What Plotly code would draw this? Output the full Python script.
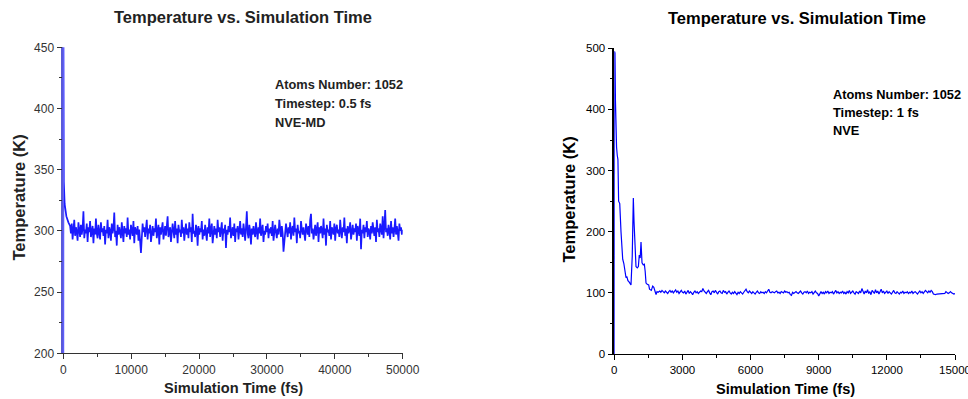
import numpy as np
import plotly.graph_objects as go

# ---------------- Left panel data (timestep 0.5 fs, NVE-MD) ----------------
left_start_time = [0, 15, 30, 80, 200, 450, 750]
left_start_temp = [150, 470, 455, 340, 322, 312, 307]

left_noise_temp = [
    304, 298, 306, 293, 301, 309, 296, 303, 299, 292, 307, 300, 295, 305, 297, 302, 316, 294, 301, 298,
    306, 291, 303, 299, 308, 295, 300, 304, 290, 302, 297, 310, 298, 294, 305, 300, 293, 307, 299, 302,
    296, 304, 289, 301, 298, 309, 294, 303, 300, 292, 306, 298, 302, 315, 295, 300, 288, 305, 297, 303,
    299, 294, 307, 300, 291, 304, 298, 302, 295, 311, 297, 301, 293, 305, 299, 296, 308, 290, 303, 300,
    297, 304, 292, 301, 287, 282, 294, 306, 299, 303, 295, 300, 309, 293, 302, 298, 305, 291, 300, 304,
    296, 302, 299, 310, 294, 300, 305, 289, 303, 297, 301, 307, 293, 299, 304, 296, 302, 312, 295, 300,
    303, 291, 298, 306, 300, 294, 308, 297, 302, 290, 305, 299, 301, 295, 309, 298, 303, 292, 300, 306,
    297, 302, 294, 307, 299, 303, 291, 314, 298, 300, 295, 305, 301, 288, 304, 297, 302, 299, 308, 293,
    301, 296, 305, 299, 292, 303, 298, 310, 295, 301, 306, 290, 300, 304, 297, 302, 294, 309, 299, 303,
    295, 300, 307, 292, 302, 298, 305, 286, 301, 297, 304, 299, 311, 294, 300, 303, 296, 306, 291, 302,
    299, 304, 293, 301, 308, 297, 302, 295, 306, 300, 292, 303, 316, 298, 294, 305, 300, 289, 302, 297,
    304, 299, 295, 307, 301, 293, 303, 298, 310, 296, 301, 305, 291, 300, 297, 304, 299, 306, 294, 302,
    298, 303, 296, 308, 292, 301, 305, 299, 294, 302, 297, 309, 300, 295, 304, 298, 283, 290, 301, 306,
    300, 295, 303, 298, 307, 293, 301, 304, 296, 311, 299, 302, 290, 305, 298, 300, 294, 308, 301, 297,
    303, 299, 292, 306, 300, 297, 304, 295, 309, 314, 298, 302, 293, 300, 305, 296, 301, 307, 291, 303,
    298, 304, 300, 294, 310, 297, 302, 288, 305, 299, 301, 296, 308, 293, 303, 300, 297, 306, 292, 302,
    305, 298, 301, 295, 309, 300, 294, 303, 299, 311, 296, 302, 290, 304, 298, 301, 307, 293, 300, 305,
    297, 302, 299, 306, 292, 304, 300, 296, 310, 285, 301, 298, 305, 294, 303, 299, 308, 295, 302, 300,
    293, 304, 298, 307, 301, 296, 303, 291, 309, 299, 302, 295, 306, 300, 297, 312, 294, 304, 317, 299,
    302, 296, 305, 300, 293, 308, 298, 303, 295, 301, 310, 297, 304, 299, 292, 306, 300, 303, 297, 301,
]
left_noise_time = np.linspace(1000, 50000, len(left_noise_temp))

left_time = list(left_start_time) + list(left_noise_time)
left_temp = left_start_temp + left_noise_temp

# ---------------- Right panel data (timestep 1 fs, NVE) ----------------
right_start_time = [0, 10, 30, 50, 70, 100, 130, 160, 190, 240, 295, 330, 370, 420, 470, 515,
                    550, 600, 650, 700, 735, 790, 838, 870, 910, 955, 1010, 1060, 1100, 1140,
                    1176, 1220, 1270, 1323, 1360, 1397, 1450, 1515, 1550, 1588, 1630, 1690,
                    1740, 1790, 1838, 1880, 1930]
right_start_temp = [0, 495, 492, 415, 360, 338, 325, 318, 250, 246, 200, 185, 155, 148, 138, 125,
                    127, 120, 118, 114, 113, 160, 255, 215, 181, 143, 141, 143, 162, 157,
                    183, 149, 146, 147, 135, 116, 114, 113, 106, 105, 104, 111,
                    109, 103, 97, 102, 101]

right_noise_temp = [
    103, 101, 104, 102, 100, 103, 101, 99, 102, 104, 101, 103, 100, 102, 105, 101, 103, 99, 102, 104,
    101, 100, 103, 98, 101, 104, 99, 102, 100, 97, 101, 103, 100, 102, 99, 101, 103, 102, 107, 103,
    101, 99, 102, 104, 100, 97, 102, 103, 100, 104, 101, 98, 102, 103, 100, 99, 104, 101, 102, 98,
    101, 103, 100, 98, 101, 99, 102, 100, 97, 101, 99, 102, 100, 98, 101, 103, 106, 102, 100, 103,
    101, 99, 102, 100, 98, 101, 103, 100, 99, 102, 100, 101, 99, 102, 100, 103, 106, 101, 100, 102,
    101, 100, 102, 103, 100, 101, 99, 102, 101, 100, 103, 101, 102, 100, 101, 97, 96, 101, 99, 100,
    102, 100, 99, 101, 103, 100, 98, 101, 102, 100, 103, 99, 101, 100, 102, 98, 101, 103, 100, 99,
    95, 100, 102, 99, 101, 98, 102, 100, 103, 99, 101, 100, 102, 98, 101, 104, 100, 102, 99, 101,
    100, 103, 99, 101, 98, 102, 100, 104, 99, 101, 103, 100, 98, 102, 101, 99, 103, 100, 107, 102,
    98, 103, 100, 105, 99, 102, 97, 104, 101, 99, 105, 100, 103, 98, 102, 106, 100, 103, 99, 101,
    103, 99, 102, 100, 98, 101, 104, 100, 99, 102, 100, 98, 101, 100, 103, 99, 101, 100, 102, 99,
    101, 100, 103, 99, 101, 102, 100, 98, 101, 103, 100, 102, 99, 101, 104, 102, 100, 103, 101, 104,
    102, 98, 97, 97, 98, 98, 99, 98, 99, 98, 98, 99, 102, 101, 99, 100, 102, 100, 99, 98,
    99,
]
right_noise_time = np.linspace(2000, 15000, len(right_noise_temp))

right_time = list(right_start_time) + list(right_noise_time)
right_temp = right_start_temp + right_noise_temp

left_xticks = [0, 10000, 20000, 30000, 40000, 50000]
left_yticks = [200, 250, 300, 350, 400, 450]
right_xticks = [0, 3000, 6000, 9000, 12000, 15000]
right_yticks = [0, 100, 200, 300, 400, 500]

title_text = "Temperature vs. Simulation Time"
left_info = ["Atoms Number: 1052", "Timestep: 0.5 fs", "NVE-MD"]
right_info = ["Atoms Number: 1052", "Timestep: 1 fs", "NVE"]

W, H = 968, 399
FONT = "Liberation Sans, Arial, sans-serif"


def px(x):
    return x / W


def py(y):
    return 1 - y / H


fig = go.Figure()
fig.add_trace(go.Scatter(x=left_time, y=left_temp, mode="lines",
                         line=dict(color="#1a1aff", width=1.7),
                         xaxis="x", yaxis="y", showlegend=False, hoverinfo="skip"))
fig.add_trace(go.Scatter(x=right_time, y=right_temp, mode="lines",
                         line=dict(color="#0000ff", width=1.2),
                         xaxis="x2", yaxis="y2", showlegend=False, hoverinfo="skip"))

tickfont_l = dict(family=FONT, size=12, color="#333333")
tickfont_r = dict(family=FONT, size=11.5, color="#000000")

common = dict(showgrid=False, zeroline=False, automargin=False, ticks="outside", ticklen=5,
              ticklabeloverflow="allow")

fig.update_layout(
    width=W, height=H, autosize=False,
    margin=dict(l=0, r=0, t=0, b=0, autoexpand=False),
    paper_bgcolor="white", plot_bgcolor="white",
    xaxis=dict(domain=[px(63.3), px(402.7)], range=[0, 50000], anchor="y",
               tickvals=left_xticks, tickformat="d",
               tickcolor="#333", showline=True, linecolor="#333", linewidth=1,
               tickfont=tickfont_l,
               minor=dict(ticks="outside", ticklen=3, tickvals=[5000, 15000, 25000, 35000, 45000],
                          tickcolor="#333", showgrid=False), **common),
    yaxis=dict(domain=[py(353.3), py(47.3)], range=[200, 450], anchor="x",
               tickvals=left_yticks,
               tickcolor="#333", showline=True, linecolor="#5a5ad8", linewidth=1.5,
               tickfont=tickfont_l,
               minor=dict(ticks="outside", ticklen=3, tickvals=[225, 275, 325, 375, 425],
                          tickcolor="#333", showgrid=False), **common),
    xaxis2=dict(domain=[px(614.3), px(955)], range=[0, 15000], anchor="y2",
                tickvals=right_xticks, tickformat="d",
                tickcolor="#000", showline=True, linecolor="#000", linewidth=1,
                tickfont=tickfont_r,
                minor=dict(ticks="outside", ticklen=3, tickvals=[1500, 4500, 7500, 10500, 13500],
                           tickcolor="#000", showgrid=False), **common),
    yaxis2=dict(domain=[py(354), py(48.3)], range=[0, 500], anchor="x2",
                tickvals=right_yticks,
                tickcolor="#000", showline=True, linecolor="#000", linewidth=1.5,
                tickfont=tickfont_r,
                minor=dict(ticks="outside", ticklen=3, tickvals=[50, 150, 250, 350, 450],
                           tickcolor="#000", showgrid=False), **common),
)

ann = []


def text(x, y, s, size, color="#111", angle=0, xanchor="center"):
    ann.append(dict(x=px(x), y=py(y), xref="paper", yref="paper", text=s,
                    showarrow=False, xanchor=xanchor, yanchor="middle", textangle=angle,
                    font=dict(family=FONT, size=size, color=color)))


# titles
text(243, 17, "<b>" + title_text + "</b>", 16.5, "#222")
text(797, 18, "<b>" + title_text + "</b>", 16.5, "#000")
# axis titles
text(233, 388, "<b>Simulation Time (fs)</b>", 14.6, "#222")
text(785, 389, "<b>Simulation Time (fs)</b>", 14.6, "#000")
text(18, 197.5, "<b>Temperature (K)</b>", 16.5, "#222", angle=-90)
text(568, 199.5, "<b>Temperature (K)</b>", 16.5, "#000", angle=-90)
# info boxes
for i, s in enumerate(left_info):
    text(273, 84 + 19 * i, "<b>" + s + "</b>", 12.8, "#222", xanchor="left")
for i, s in enumerate(right_info):
    text(831, 94 + 18.3 * i, "<b>" + s + "</b>", 12.8, "#000", xanchor="left")

fig.update_layout(annotations=ann)
fig.write_html("out.html")
